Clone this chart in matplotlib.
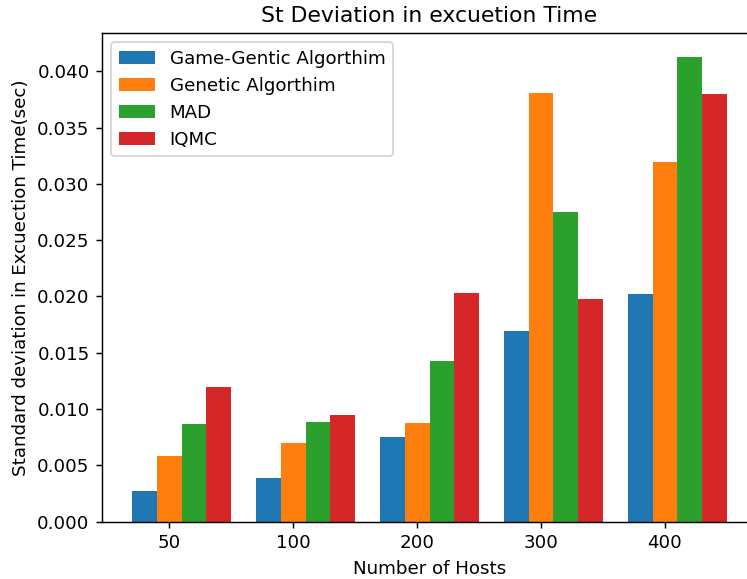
import numpy as np
import matplotlib
matplotlib.use('Agg')
import matplotlib.pyplot as plt

# Data
hosts = ['50', '100', '200', '300', '400']
game_genetic = [0.00275, 0.0039, 0.00754, 0.01692, 0.02018]
genetic = [0.0058, 0.00698, 0.00873, 0.0381, 0.03198]
mad = [0.00864, 0.00882, 0.01426, 0.02754, 0.0413]
iqmc = [0.01193, 0.00944, 0.0203, 0.01973, 0.0380]

DPI = 131
fig = plt.figure(figsize=(747 / DPI, 579 / DPI), dpi=DPI)
# right edge of the axes runs past the figure, as in the reference
ax = fig.add_axes([0.137, 0.099, 0.876, 0.8435])

x = np.arange(len(hosts))
w = 0.2
ax.bar(x - w, game_genetic, w, label='Game-Gentic Algorthim', color='#1f77b4')
ax.bar(x, genetic, w, label='Genetic Algorthim', color='#ff7f0e')
ax.bar(x + w, mad, w, label='MAD', color='#2ca02c')
ax.bar(x + 2 * w, iqmc, w, label='IQMC', color='#d62728')

ax.set_xticks(x)
ax.set_xticklabels(hosts)
ax.set_xlabel('Number of Hosts')
ax.set_ylabel('Standard deviation in Excuection Time(sec)')
ax.set_title('St Deviation in excuetion Time')
ax.legend(loc='upper left')

fig.savefig('out.png', dpi=DPI)
